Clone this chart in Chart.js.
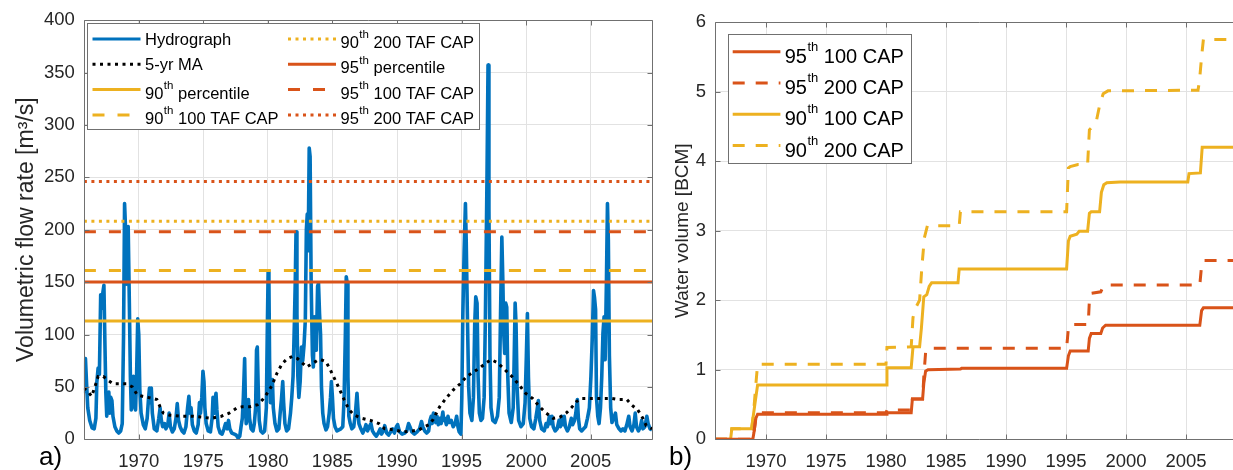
<!DOCTYPE html>
<html>
<head>
<meta charset="utf-8">
<title>Flow and storage</title>
<script src="https://cdn.jsdelivr.net/npm/chart.js@4.4.1/dist/chart.umd.min.js"></script>
<style>
  html, body { margin: 0; padding: 0; background: #fff; overflow: hidden; }
  #wrap { position: relative; width: 1233px; height: 470px; overflow: hidden; }
  #flowBox { position: absolute; left: 0; top: 0; width: 660px; height: 470px; }
  #volBox { position: absolute; left: 660px; top: 0; width: 590px; height: 470px; }
  .tag { position: absolute; font: 26px 'Liberation Sans', Arial, sans-serif; line-height: 26px; color: #000; }
</style>
</head>
<body>
<div id="wrap">
  <div id="flowBox"><canvas id="flowChart" width="660" height="470"></canvas></div>
  <div id="volBox"><canvas id="volChart" width="590" height="470"></canvas></div>
  <div class="tag" style="left:39px; top:443px;">a)</div>
  <div class="tag" style="left:669px; top:443px;">b)</div>
</div>
<script>
// ---- data ----
const yearRange = [1965.75, 2009.75];
const yearTicks = [1970, 1975, 1980, 1985, 1990, 1995, 2000, 2005];
const flowTicks = [0, 50, 100, 150, 200, 250, 300, 350, 400];
const volumeTicks = [0, 1, 2, 3, 4, 5, 6];

// monthly-ish flow record [year, m3/s]
const hydrograph = [
  [1965.75,44],[1965.8,68],[1965.87,77],[1965.95,55],[1966.05,30],[1966.2,18],[1966.38,11],[1966.55,10],
  [1966.68,20],[1966.75,54],[1966.85,68],[1966.95,62],[1967.05,138],[1967.13,125],[1967.22,140],[1967.3,147],
  [1967.38,90],[1967.45,44],[1967.52,22],[1967.6,38],[1967.68,45],[1967.75,25],[1967.83,40],[1967.92,37],
  [1968.0,22],[1968.15,12],[1968.3,8],[1968.45,6],[1968.6,8],[1968.72,15],[1968.82,98],[1968.9,225],
  [1968.98,200],[1969.05,148],[1969.12,195],[1969.18,203],[1969.27,130],[1969.35,60],[1969.42,28],[1969.5,45],
  [1969.58,60],[1969.65,32],[1969.75,28],[1969.83,60],[1969.92,115],[1970.0,100],[1970.08,48],[1970.18,25],
  [1970.35,14],[1970.5,10],[1970.65,20],[1970.75,38],[1970.83,49],[1970.9,35],[1970.97,49],[1971.05,25],
  [1971.2,10],[1971.4,8],[1971.55,20],[1971.65,30],[1971.75,18],[1971.85,12],[1972.0,15],[1972.1,10],
  [1972.25,14],[1972.35,25],[1972.45,12],[1972.6,7],[1972.75,10],[1972.88,20],[1972.98,34],[1973.08,18],
  [1973.2,12],[1973.35,8],[1973.5,6],[1973.65,12],[1973.78,30],[1973.88,41],[1973.96,25],[1974.05,30],
  [1974.15,14],[1974.3,8],[1974.45,6],[1974.6,14],[1974.7,35],[1974.78,25],[1974.88,40],[1974.97,65],
  [1975.05,55],[1975.12,30],[1975.22,15],[1975.38,8],[1975.55,7],[1975.68,20],[1975.75,40],[1975.83,25],
  [1975.9,35],[1975.98,44],[1976.05,28],[1976.15,12],[1976.3,6],[1976.45,5],[1976.6,10],[1976.72,15],
  [1976.85,10],[1976.95,18],[1977.05,10],[1977.2,6],[1977.4,5],[1977.55,4],[1977.7,1],[1977.82,3],
  [1977.92,12],[1978.02,20],[1978.1,40],[1978.2,77],[1978.26,35],[1978.32,15],[1978.42,22],[1978.5,38],
  [1978.58,20],[1978.7,10],[1978.85,8],[1978.95,15],[1979.05,30],[1979.12,85],[1979.18,88],[1979.25,50],
  [1979.33,18],[1979.45,8],[1979.6,6],[1979.75,8],[1979.88,30],[1979.95,100],[1980.02,160],[1980.08,150],
  [1980.13,76],[1980.2,35],[1980.28,44],[1980.35,57],[1980.42,30],[1980.55,15],[1980.7,8],[1980.85,10],
  [1980.95,25],[1981.05,38],[1981.15,55],[1981.22,35],[1981.32,15],[1981.45,8],[1981.6,10],[1981.75,25],
  [1981.85,40],[1981.95,60],[1982.05,110],[1982.12,150],[1982.18,198],[1982.25,120],[1982.32,60],[1982.4,40],
  [1982.5,55],[1982.6,88],[1982.7,75],[1982.8,90],[1982.9,114],[1982.98,200],[1983.05,215],[1983.12,180],
  [1983.2,278],[1983.27,270],[1983.35,150],[1983.45,80],[1983.52,69],[1983.6,117],[1983.67,100],[1983.75,85],
  [1983.85,146],[1983.92,149],[1984.0,120],[1984.08,100],[1984.15,50],[1984.25,25],[1984.35,15],[1984.5,9],
  [1984.62,12],[1984.75,25],[1984.85,40],[1984.92,55],[1985.0,40],[1985.08,20],[1985.2,12],[1985.35,8],
  [1985.5,9],[1985.65,10],[1985.8,12],[1985.9,38],[1986.0,100],[1986.07,155],[1986.13,150],[1986.2,60],
  [1986.27,22],[1986.38,15],[1986.5,10],[1986.65,12],[1986.78,25],[1986.9,44],[1986.97,30],[1987.05,15],
  [1987.2,10],[1987.35,6],[1987.5,10],[1987.6,14],[1987.72,8],[1987.85,12],[1987.98,15],[1988.1,8],
  [1988.25,5],[1988.4,3],[1988.55,6],[1988.7,10],[1988.8,5],[1988.95,8],[1989.05,13],[1989.2,6],
  [1989.35,4],[1989.5,7],[1989.65,10],[1989.8,6],[1989.95,12],[1990.05,14],[1990.2,7],[1990.4,5],
  [1990.6,6],[1990.75,8],[1990.9,15],[1991.0,12],[1991.15,7],[1991.35,5],[1991.55,7],[1991.75,10],
  [1991.9,17],[1992.0,12],[1992.15,8],[1992.3,6],[1992.45,8],[1992.55,18],[1992.65,22],[1992.72,15],
  [1992.82,25],[1992.9,20],[1993.0,16],[1993.1,22],[1993.2,14],[1993.32,20],[1993.42,15],[1993.55,26],
  [1993.62,18],[1993.72,20],[1993.82,14],[1993.95,22],[1994.05,16],[1994.2,18],[1994.35,12],[1994.5,15],
  [1994.62,22],[1994.72,12],[1994.82,7],[1994.95,5],[1995.02,40],[1995.1,120],[1995.2,180],[1995.3,225],
  [1995.36,190],[1995.45,120],[1995.55,50],[1995.65,25],[1995.8,18],[1995.92,40],[1996.02,110],[1996.1,136],
  [1996.2,130],[1996.28,60],[1996.38,25],[1996.5,18],[1996.62,20],[1996.75,40],[1996.85,120],[1996.97,250],
  [1997.05,357],[1997.12,220],[1997.2,80],[1997.28,30],[1997.42,18],[1997.6,16],[1997.78,22],[1997.92,40],
  [1998.02,120],[1998.12,193],[1998.2,150],[1998.27,100],[1998.34,82],[1998.42,130],[1998.5,126],[1998.58,60],
  [1998.68,25],[1998.85,16],[1999.0,30],[1999.08,80],[1999.15,130],[1999.22,110],[1999.3,50],[1999.42,18],
  [1999.6,12],[1999.78,15],[1999.92,35],[2000.02,80],[2000.1,120],[2000.18,60],[2000.28,20],[2000.42,12],
  [2000.6,10],[2000.75,20],[2000.85,28],[2000.95,37],[2001.05,18],[2001.2,10],[2001.4,8],[2001.55,15],
  [2001.65,12],[2001.8,22],[2001.9,15],[2002.0,22],[2002.1,12],[2002.25,8],[2002.4,10],[2002.55,18],
  [2002.65,12],[2002.75,22],[2002.85,14],[2002.95,22],[2003.05,12],[2003.2,8],[2003.35,12],[2003.5,20],
  [2003.6,14],[2003.75,18],[2003.85,25],[2003.97,38],[2004.05,20],[2004.15,10],[2004.3,8],[2004.45,10],
  [2004.6,12],[2004.75,20],[2004.9,30],[2005.02,60],[2005.12,95],[2005.22,142],[2005.3,135],[2005.38,124],
  [2005.45,40],[2005.55,22],[2005.65,15],[2005.76,30],[2005.86,60],[2005.95,101],[2006.04,117],[2006.12,76],
  [2006.22,150],[2006.3,225],[2006.37,190],[2006.45,80],[2006.55,30],[2006.65,16],[2006.78,20],[2006.92,25],
  [2007.02,14],[2007.2,10],[2007.35,8],[2007.5,10],[2007.65,8],[2007.8,14],[2007.95,22],[2008.05,12],
  [2008.2,8],[2008.35,14],[2008.45,25],[2008.55,12],[2008.7,8],[2008.85,12],[2008.95,18],[2009.05,10],
  [2009.2,12],[2009.35,22],[2009.45,15],[2009.6,10],[2009.75,9]
];

// 5-year moving average [year, m3/s]
const movingAvg = [
  [1965.75,49],[1966.1,45],[1966.35,41],[1966.6,50],[1966.85,60],[1967.25,60],[1967.65,56],[1968.0,53],
  [1968.5,53],[1969.05,53],[1969.5,50],[1969.9,42],[1970.3,41],[1970.7,40],[1971.1,39],[1971.4,38],
  [1971.65,31],[1971.9,25],[1972.4,23],[1973.2,22],[1974.2,22],[1975.0,21],[1975.6,20],[1976.4,22],
  [1977.0,25],[1977.6,30],[1978.0,31],[1978.6,31],[1979.2,33],[1979.6,38],[1979.95,44],[1980.3,51],
  [1980.7,63],[1981.1,72],[1981.5,77],[1981.9,79],[1982.3,77],[1982.65,73],[1983.0,69],[1983.4,72],
  [1983.8,75],[1984.1,76],[1984.5,74],[1984.85,66],[1985.35,53],[1985.9,38],[1986.3,28],[1986.7,23],
  [1987.3,20],[1987.95,18],[1988.6,15],[1989.05,10],[1989.8,9],[1990.5,7],[1991.2,8],[1991.7,9],
  [1992.1,12],[1992.5,14],[1992.8,19],[1993.3,31],[1993.85,40],[1994.35,47],[1994.9,53],[1995.4,60],
  [1995.9,64],[1996.4,68],[1996.9,73],[1997.3,76],[1997.8,73],[1998.3,67],[1998.9,60],[1999.45,52],
  [1999.95,44],[2000.5,39],[2001.05,31],[2001.55,25],[2002.1,20],[2002.6,21],[2003.1,25],[2003.5,30],
  [2003.9,36],[2004.3,39],[2005.0,39],[2006.0,39],[2006.6,39],[2007.1,38],[2007.8,38],[2008.15,33],
  [2008.65,28],[2009.05,20],[2009.3,13],[2009.75,10]
];

// percentile thresholds and capped variants [m3/s]
const thresholdLabels = ['90th percentile', '90th 100 TAF CAP', '90th 200 TAF CAP',
                         '95th percentile', '95th 100 TAF CAP', '95th 200 TAF CAP'];
const thresholdFlow = [113, 161, 208, 150, 198, 246];

// cumulative captured volume [year, BCM]
const vol95cap100 = [
  [1965.75,0],[1968.9,0],[1969.0,0.1],[1969.15,0.3],[1969.3,0.36],[1980.0,0.36],[1980.08,0.38],[1982.1,0.38],
  [1982.2,0.58],[1983.05,0.58],[1983.15,0.8],[1983.3,0.98],[1983.5,1.0],[1986.2,1.01],[1986.3,1.02],[1995.05,1.02],
  [1995.2,1.2],[1995.35,1.27],[1996.85,1.27],[1996.95,1.45],[1997.1,1.52],[1997.9,1.52],[1998.05,1.6],[1998.3,1.64],
  [2006.15,1.64],[2006.3,1.85],[2006.45,1.89],[2009.75,1.89]
];
const vol95cap200 = [
  [1965.75,0],[1968.9,0],[1969.0,0.1],[1969.15,0.3],[1969.3,0.38],[1980.0,0.38],[1980.08,0.42],[1982.1,0.42],
  [1982.2,0.58],[1983.05,0.58],[1983.15,0.9],[1983.3,1.25],[1983.5,1.31],[1995.05,1.31],[1995.2,1.6],[1995.35,1.65],
  [1996.85,1.65],[1996.95,2.0],[1997.1,2.1],[1997.9,2.12],[1998.05,2.18],[1998.3,2.22],[2006.15,2.22],[2006.3,2.5],
  [2006.45,2.57],[2009.75,2.57]
];
const vol90cap100 = [
  [1965.75,0],[1967.05,0],[1967.15,0.15],[1968.8,0.15],[1968.95,0.35],[1969.15,0.6],[1969.3,0.78],[1980.0,0.78],
  [1980.08,1.03],[1982.1,1.03],[1982.25,1.33],[1982.8,1.33],[1982.95,1.6],[1983.15,2.05],[1983.4,2.08],[1983.6,2.2],
  [1983.8,2.25],[1986.0,2.25],[1986.1,2.45],[1995.05,2.45],[1995.2,2.85],[1995.35,2.92],[1995.9,2.95],[1996.1,2.99],
  [1996.8,2.99],[1996.95,3.25],[1997.1,3.27],[1997.8,3.27],[1997.95,3.55],[1998.15,3.66],[1998.4,3.69],[1999.5,3.7],
  [2005.15,3.7],[2005.25,3.82],[2006.2,3.83],[2006.35,4.2],[2009.75,4.2]
];
const vol90cap200 = [
  [1965.75,0],[1967.05,0],[1967.15,0.15],[1968.8,0.15],[1968.95,0.35],[1969.15,0.78],[1969.3,1.08],[1980.0,1.08],
  [1980.08,1.32],[1982.1,1.33],[1982.25,1.75],[1982.5,1.9],[1982.8,2.0],[1983.0,2.5],[1983.2,2.9],[1983.45,3.07],
  [1986.1,3.07],[1986.2,3.27],[1995.05,3.27],[1995.2,3.9],[1995.35,3.92],[1996.0,3.95],[1996.8,3.95],[1996.95,4.45],
  [1997.5,4.55],[1997.8,4.8],[1998.1,4.97],[1998.5,5.01],[2006.0,5.02],[2006.12,5.15],[2006.3,5.5],[2006.45,5.75],
  [2009.75,5.75]
];
const volumeLabels = ['95th 100 CAP', '95th 200 CAP', '90th 100 CAP', '90th 200 CAP'];

// ---- styling ----
const FONT = "'Liberation Sans', Arial, Helvetica, sans-serif";
const INK = '#262626';
const GRID = '#e2e2e2';
const EDGE = '#707070';
const BLUE = '#0072BD', YELLOW = '#EDB120', ORANGE = '#D95319';
const SOLID = [], DASH = [12, 13], DOT = [3, 4.5];

Chart.defaults.font.family = FONT;
Chart.defaults.color = INK;

const pts = arr => arr.map(([x, y]) => ({ x, y }));

// box round the plot area with inward tick marks on all four sides
const axesBox = {
  id: 'axesBox',
  afterDatasetsDraw(chart) {
    const { ctx, chartArea: a, scales: { x, y } } = chart;
    const t = 5;
    const L = Math.round(a.left) + 0.5, R = Math.round(a.right) + 0.5;
    const T = Math.round(a.top) + 0.5, B = Math.round(a.bottom) + 0.5;
    ctx.save();
    ctx.strokeStyle = EDGE;
    ctx.lineWidth = 1;
    ctx.beginPath();
    x.ticks.forEach(tk => {
      const px = Math.round(x.getPixelForValue(tk.value)) + 0.5;
      ctx.moveTo(px, B); ctx.lineTo(px, B - t);
      ctx.moveTo(px, T); ctx.lineTo(px, T + t);
    });
    y.ticks.forEach(tk => {
      const py = Math.round(y.getPixelForValue(tk.value)) + 0.5;
      ctx.moveTo(L, py); ctx.lineTo(L + t, py);
      ctx.moveTo(R, py); ctx.lineTo(R - t, py);
    });
    ctx.rect(L, T, R - L, B - T);
    ctx.stroke();
    ctx.restore();
  }
};

// text with a raised "th" after the leading number
function drawLabel(ctx, text, x, y, size, sup) {
  const m = text.match(/^(\d+)th(.*)$/);
  ctx.textAlign = 'left';
  ctx.textBaseline = 'middle';
  ctx.fillStyle = '#000';
  ctx.font = size + 'px ' + FONT;
  if (!m) { ctx.fillText(text, x, y + 1); return; }
  const base = y + size * 0.27;
  ctx.fillText(m[1], x, base);
  let cx = x + ctx.measureText(m[1]).width + 0.5;
  ctx.font = sup + 'px ' + FONT;
  ctx.fillText('th', cx, base - size * 0.5);
  cx += ctx.measureText('th').width;
  ctx.font = size + 'px ' + FONT;
  ctx.fillText(m[2], cx, base);
}

// boxed legend, filled column by column
const boxLegend = {
  id: 'boxLegend',
  afterDraw(chart, args, o) {
    const ctx = chart.ctx;
    ctx.save();
    ctx.fillStyle = '#fff';
    ctx.fillRect(o.x, o.y, o.w, o.h);
    ctx.strokeStyle = EDGE;
    ctx.lineWidth = 1;
    ctx.strokeRect(o.x + 0.5, o.y + 0.5, o.w, o.h);
    o.items.forEach((idx, k) => {
      const ds = chart.data.datasets[idx];
      const col = Math.floor(k / o.rows), row = k % o.rows;
      const lx = o.x + o.colX[col];
      const ly = o.y + o.rowY + row * o.rowStep;
      ctx.beginPath();
      ctx.setLineDash(ds.borderDash || []);
      ctx.strokeStyle = ds.borderColor;
      ctx.lineWidth = Math.min(ds.borderWidth, 3);
      ctx.moveTo(lx, ly);
      ctx.lineTo(lx + o.sample, ly);
      ctx.stroke();
      ctx.setLineDash([]);
      drawLabel(ctx, ds.label, lx + o.sample + o.gap, ly, o.size, o.sup);
    });
    ctx.restore();
  }
};

function yearAxis(height) {
  return {
    type: 'linear', min: yearRange[0], max: yearRange[1],
    afterBuildTicks: s => { s.ticks = yearTicks.map(v => ({ value: v })); },
    afterFit: s => { s.height = height; },
    grid: { color: GRID, drawTicks: false },
    border: { display: false },
    ticks: { color: INK, font: { size: 18.5 }, padding: 12, maxRotation: 0, autoSkip: false,
             callback: v => String(v) }
  };
}

function valueAxis(ticks, max, width, title, titleSize, titlePad) {
  return {
    type: 'linear', min: 0, max: max,
    afterBuildTicks: s => { s.ticks = ticks.map(v => ({ value: v })); },
    afterFit: s => { s.width = width; },
    grid: { color: GRID, drawTicks: false },
    border: { display: false },
    ticks: { color: INK, font: { size: 18.5 }, padding: 9, autoSkip: false, callback: v => String(v) },
    title: { display: true, text: title, color: INK, font: { size: titleSize }, padding: { top: titlePad, bottom: 0 } }
  };
}

const lineBase = { pointRadius: 0, tension: 0, fill: false, borderCapStyle: 'butt' };

// ---- left: flow record with thresholds ----
const thresholdSets = thresholdLabels.map((label, i) => ({
  ...lineBase,
  label: label,
  data: pts([[yearRange[0], thresholdFlow[i]], [yearRange[1], thresholdFlow[i]]]),
  borderColor: i < 3 ? YELLOW : ORANGE,
  borderWidth: 3,
  borderDash: [SOLID, DASH, DOT][i % 3],
  order: 1
}));

new Chart(document.getElementById('flowChart'), {
  type: 'line',
  data: {
    datasets: [
      { ...lineBase, label: 'Hydrograph', data: pts(hydrograph), borderColor: BLUE, borderWidth: 3.6,
        borderDash: SOLID, borderJoinStyle: 'round', order: 3 },
      { ...lineBase, label: '5-yr MA', data: pts(movingAvg), borderColor: '#000', borderWidth: 3, borderDash: DOT, order: 2 },
      ...thresholdSets
    ]
  },
  options: {
    responsive: false, animation: false, events: [], devicePixelRatio: 1,
    layout: { padding: { left: 0, top: 20, right: 8, bottom: 0 } },
    scales: {
      x: yearAxis(30.7),
      y: valueAxis(flowTicks, 400, 83.9, 'Volumetric flow rate [m\u00b3/s]', 23, 13)
    },
    plugins: {
      legend: { display: false },
      tooltip: { enabled: false },
      boxLegend: { x: 87, y: 23, w: 392, h: 106, rows: 4, colX: [5.5, 201], rowY: 16,
                   rowStep: 25.3, sample: 48, gap: 4.5, size: 16.5, sup: 11.5, items: [0, 1, 2, 3, 4, 5, 6, 7] }
    }
  },
  plugins: [axesBox, boxLegend]
});

// ---- right: cumulative captured volume ----
const volumeSeries = [vol95cap100, vol95cap200, vol90cap100, vol90cap200];
const volumeStyle = [[ORANGE, SOLID], [ORANGE, [12, 11]], [YELLOW, SOLID], [YELLOW, [12, 11]]];

new Chart(document.getElementById('volChart'), {
  type: 'line',
  data: {
    datasets: volumeSeries.map((s, i) => ({
      ...lineBase,
      label: volumeLabels[i],
      data: pts(s),
      borderColor: volumeStyle[i][0],
      borderDash: volumeStyle[i][1],
      borderWidth: 3
    }))
  },
  options: {
    responsive: false, animation: false, events: [], devicePixelRatio: 1,
    layout: { padding: { left: 0, top: 22, right: 7, bottom: 0 } },
    scales: {
      x: yearAxis(30.7),
      y: valueAxis(volumeTicks, 6, 55, 'Water volume [BCM]', 19, 11)
    },
    plugins: {
      legend: { display: false },
      tooltip: { enabled: false },
      boxLegend: { x: 68, y: 34, w: 183, h: 129, rows: 4, colX: [4.7], rowY: 17.7,
                   rowStep: 31.3, sample: 47.7, gap: 4.3, size: 20, sup: 13, items: [0, 1, 2, 3] }
    }
  },
  plugins: [axesBox, boxLegend]
});
</script>
</body>
</html>
